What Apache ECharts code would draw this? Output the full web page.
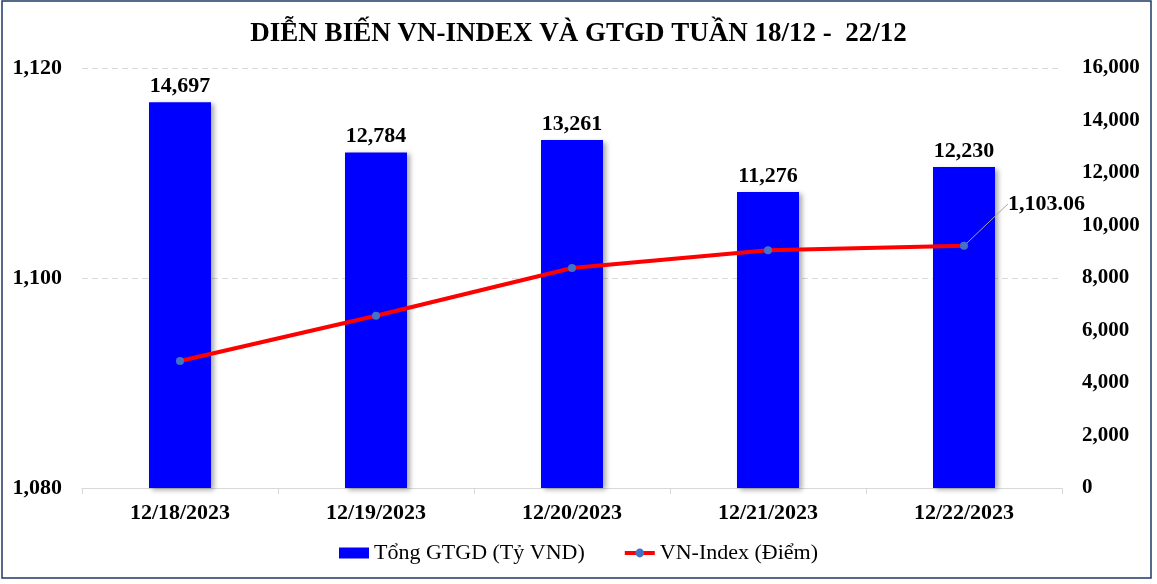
<!DOCTYPE html>
<html><head><meta charset="utf-8">
<script src="https://cdn.jsdelivr.net/npm/echarts@6/dist/echarts.min.js"></script>
<style>html,body{margin:0;padding:0;background:#fff}#c{width:1157px;height:584px}</style>
</head><body><div id="c"></div>
<script>
var categories = ['12/18/2023','12/19/2023','12/20/2023','12/21/2023','12/22/2023'];
var gtgd = [14697, 12784, 13261, 11276, 12230];
var vnIndex = [1092.1, 1096.4, 1100.95, 1102.65, 1103.06];
var leftTicks = [1080, 1100, 1120];
var rightTicks = [0, 2000, 4000, 6000, 8000, 10000, 12000, 14000, 16000];
var FONT = '"Liberation Serif", "Times New Roman", serif';
function fmt(v, d) { return Number(v).toLocaleString('en-US', {minimumFractionDigits: d||0, maximumFractionDigits: d||0}); }
var chart = echarts.init(document.getElementById('c'));
var lastIdx = vnIndex.length - 1;
var lineData = vnIndex.map(function (v, i) {
  if (i === lastIdx) {
    return { value: v, label: { show: true, position: 'right', distance: 5, formatter: function (p) { return fmt(p.value, 2); } } };
  }
  return v;
});
chart.setOption({
  animation: false,
  title: { text: 'DIỄN BIẾN VN-INDEX VÀ GTGD TUẦN 18/12 -  22/12', left: 'center', top: 16,
    textStyle: { fontFamily: FONT, fontWeight: 'bold', fontSize: 27, color: '#000' } },
  graphic: [{ type: 'rect', shape: { x: 2, y: 1, width: 1149, height: 577 }, style: { fill: 'none', stroke: '#1F3864', lineWidth: 1.5 }, silent: true }],
  legend: { bottom: 15, left: 'center', itemGap: 38, itemWidth: 30, itemHeight: 11,
    textStyle: { fontFamily: FONT, fontSize: 22, color: '#000' },
    data: [{ name: 'Tổng GTGD (Tỷ VND)', icon: 'rect', itemStyle: { shadowBlur: 0, shadowOffsetX: 0, shadowOffsetY: 0 } },
           { name: 'VN-Index (Điểm)', lineStyle: { width: 4 } }] },
  grid: { left: 82, right: 95, top: 68, bottom: 96 },
  xAxis: { type: 'category', data: categories,
    axisLine: { lineStyle: { color: '#D9D9D9' } },
    axisTick: { show: true, length: 6, lineStyle: { color: '#D9D9D9' } },
    axisLabel: { fontFamily: FONT, fontWeight: 'bold', fontSize: 22, color: '#000', margin: 14 } },
  yAxis: [
    { type: 'value', min: leftTicks[0], max: leftTicks[leftTicks.length-1], interval: 20, position: 'left',
      axisLine: { show: false }, axisTick: { show: false },
      splitLine: { show: true, lineStyle: { color: '#D9D9D9', type: [6, 4] } },
      axisLabel: { fontFamily: FONT, fontWeight: 'bold', fontSize: 22, color: '#000', margin: 20, formatter: function (v) { return fmt(v); } } },
    { type: 'value', min: rightTicks[0], max: rightTicks[rightTicks.length-1], interval: 2000, position: 'right',
      axisLine: { show: false }, axisTick: { show: false }, splitLine: { show: false },
      axisLabel: { fontFamily: FONT, fontWeight: 'bold', fontSize: 21, color: '#000', margin: 20, formatter: function (v) { return fmt(v); } } }
  ],
  series: [
    { name: 'Tổng GTGD (Tỷ VND)', type: 'bar', yAxisIndex: 1, data: gtgd, barWidth: 62,
      itemStyle: { color: '#0000FF', shadowColor: 'rgba(0,0,0,0.35)', shadowBlur: 5, shadowOffsetX: 3, shadowOffsetY: 2 },
      label: { show: true, position: 'top', distance: 5, fontFamily: FONT, fontWeight: 'bold', fontSize: 22, color: '#000', formatter: function (p) { return fmt(p.value); } } },
    { name: 'VN-Index (Điểm)', type: 'line', yAxisIndex: 0, data: lineData, z: 5,
      lineStyle: { color: '#FF0000', width: 4 }, symbol: 'circle', symbolSize: 8,
      itemStyle: { color: '#4472C4' },
      label: { fontFamily: FONT, fontWeight: 'bold', fontSize: 22, color: '#000' },
      labelLine: { show: true, lineStyle: { color: '#A6A6A6', width: 1 } },
      labelLayout: function (p) {
        if (p.dataIndex === lastIdx) return { dx: 35, dy: -42 };
        return {};
      } }
  ]
});
</script></body></html>
